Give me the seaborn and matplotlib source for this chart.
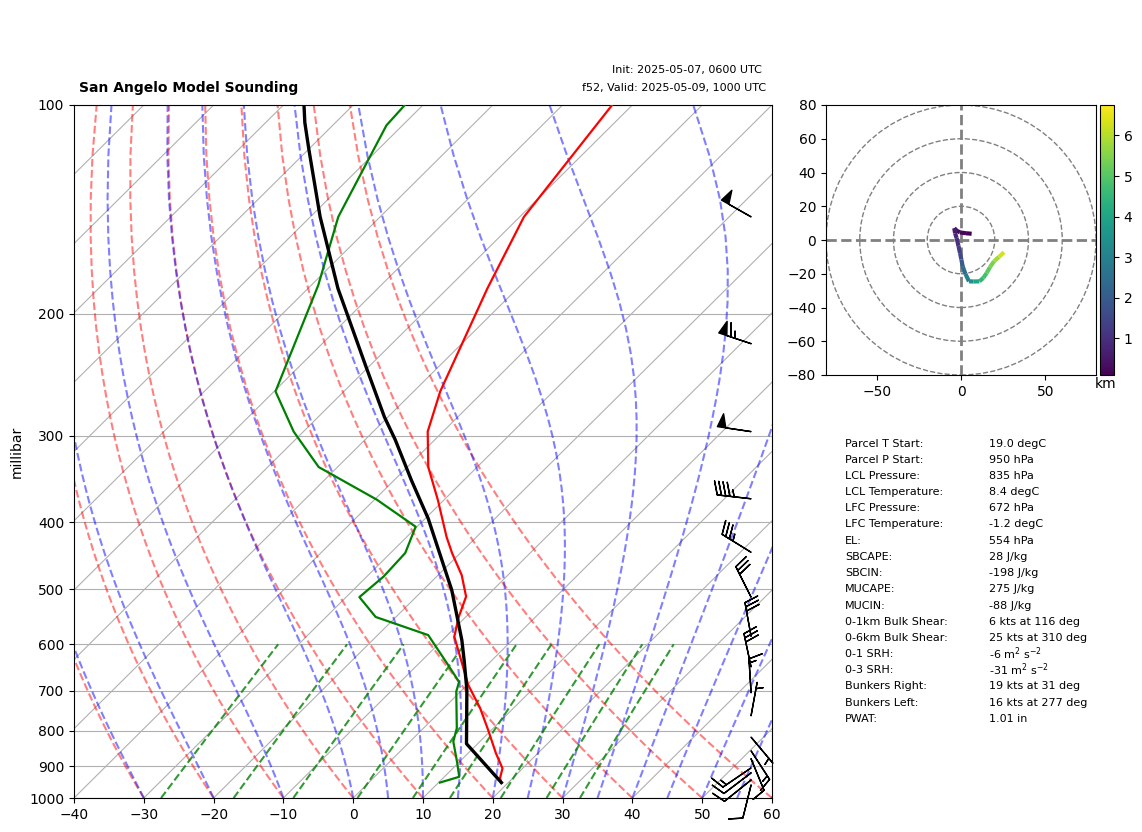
# plot.py
# Model sounding on a skew-T with hodograph and parameter table

import numpy as np
import pandas as pd
import matplotlib
matplotlib.use("Agg")
import matplotlib.pyplot as plt
from matplotlib.collections import LineCollection
from matplotlib.patches import Circle
import seaborn as sns

# Sounding values
temp_p = [950, 937, 906, 862, 798, 742, 687, 585, 548, 512, 477, 443, 420, 372, 333, 296, 259, 184, 145, 100]
temp_c = [19.0, 18.2, 17.1, 14.0, 9.54, 5.23, 0.18, -8.8, -11.0, -12.9, -16.6, -21.2, -24.3, -30.8, -37.0,
          -42.2, -46.2, -54.3, -59.4, -62.9]
dewp_p = [950, 932, 891, 829, 793, 702, 680, 643, 582, 548, 513, 479, 443, 406, 371, 333, 296, 259, 182, 145, 107, 100]
dewp_c = [10.2, 12.13, 9.9, 6.2, 4.77, -0.6, -1.58, -5.57, -12.76, -22.9, -28.1, -27.6, -27.9, -30.2, -39.7,
          -52.7, -61.4, -69.8, -79.0, -86.0, -92.3, -92.6]
parcel_p = [950, 835, 698, 632, 592, 501, 395, 348, 304, 282, 239, 202, 184, 145, 116, 106, 100]
parcel_c = [19.0, 8.4, 0.67, -4.04, -7.2, -15.9, -29.6, -37.5, -45.7, -50.5, -60.3, -70.2, -75.7, -88.6, -99.9,
            -104.4, -107.05]

# Wind barbs
wind_p = [145, 221, 296, 370, 442, 513, 584, 647, 705, 761, 817, 855, 878, 905, 920, 942, 958]
wind_kts = [50, 65, 50, 45, 35, 30, 30, 30, 15, 5, 5, 15, 10, 15, 10, 10, 10]
wind_dir = [299.5, 288.4, 278.4, 276.5, 301.8, 333.4, 349.7, 348, 356.5, 10.3, 140, 147, 157.5, 235.8, 232.8,
            231.3, 194]

# Hodograph
hodo_u = [6.3, 3.0, -0.6, -2.5, -4.0, -3.5, -2.6, -1.5, -0.6, 0.2, 1.0, 2.6, 4.7, 7.5, 10.9, 13.2, 15.2, 17.2,
          19.6, 22.5, 25.5]
hodo_v = [3.7, 4.0, 4.5, 5.5, 7.0, 4.0, 1.2, -3.5, -7.7, -11.5, -15.6, -20.0, -24.5, -24.6, -24.5, -22.5, -19.6,
          -16.0, -12.6, -10.0, -7.3]
hodo_km = [0.1, 0.2, 0.3, 0.4, 0.55, 0.8, 1.0, 1.3, 1.6, 2.0, 2.4, 2.9, 3.4, 4.0, 4.5, 4.8, 5.1, 5.4, 5.8, 6.3, 6.75]

# Parameter table
param_names = ["Parcel T Start:", "Parcel P Start:", "LCL Pressure:", "LCL Temperature:", "LFC Pressure:",
               "LFC Temperature:", "EL:", "SBCAPE:", "SBCIN:", "MUCAPE:", "MUCIN:", "0-1km Bulk Shear:",
               "0-6km Bulk Shear:", "0-1 SRH:", "0-3 SRH:", "Bunkers Right:", "Bunkers Left:", "PWAT:"]
param_vals = ["19.0 degC", "950 hPa", "835 hPa", "8.4 degC", "672 hPa", "-1.2 degC", "554 hPa", "28 J/kg",
              "-198 J/kg", "275 J/kg", "-88 J/kg", "6 kts at 116 deg", "25 kts at 310 deg",
              r"-6 m$^2$ s$^{-2}$", r"-31 m$^2$ s$^{-2}$", "19 kts at 31 deg", "16 kts at 277 deg", "1.01 in"]
param_rows = [444, 460, 476, 492, 508, 524, 541, 557, 573, 589, 606, 622, 638, 654, 670, 686, 703, 719]

pressure_ticks = [100, 200, 300, 400, 500, 600, 700, 800, 900, 1000]

W, H = 1142, 832
SKEW = 100.0  # degC of x shift per decade of pressure


def skew(t, p):
    return np.asarray(t, dtype=float) + SKEW * np.log10(1000.0 / np.asarray(p, dtype=float))


def make_axes(fig, left, top, right, bottom):
    return fig.add_axes([left / W, 1 - bottom / H, (right - left) / W, (bottom - top) / H])


def moist_line(t0, pres):
    # integrate the saturated lapse rate upward from 1000 hPa
    out = [t0 + 273.15]
    for p1, p2 in zip(pres[:-1], pres[1:]):
        t = out[-1]
        for _ in range(4):
            pm = 0.5 * (p1 + p2)
            es = 6.112 * np.exp(17.67 * (t - 273.15) / (t - 29.65))
            rs = 0.622 * es / (pm - es)
            lv = 2.501e6
            dt = (287.05 * t + lv * rs) / (1005.0 + lv ** 2 * rs * 0.622 / (287.05 * t ** 2))
            t = t + dt * np.log(p2 / p1) / 4
        out.append(t)
    return np.array(out) - 273.15


def add_lines(ax, curves, **kw):
    segs = [np.column_stack([skew(t, p), p]) for t, p in curves]
    ax.add_collection(LineCollection(segs, linestyles="dashed", **kw), autolim=False)


fig = plt.figure(figsize=(W / 100, H / 100), dpi=100)
ax = make_axes(fig, 74, 105, 772, 798)
ax.set_yscale("log")
ax.set_xlim(-40, 60)
ax.set_ylim(1000, 100)
ax.yaxis.set_major_locator(plt.FixedLocator(pressure_ticks))
ax.yaxis.set_major_formatter(plt.FixedFormatter([str(v) for v in pressure_ticks]))
ax.yaxis.set_minor_locator(plt.NullLocator())
ax.set_xticks(np.arange(-40, 61, 10))
ax.grid(axis="y", color="#b0b0b0", lw=0.8)
ax.set_axisbelow(True)
ax.set_ylabel("millibar")

# Isotherms
for t in np.arange(-150, 61, 10):
    ax.plot(skew([t, t], [1000, 100]), [1000, 100], color="#b0b0b0", lw=0.8, zorder=1)

# Background adiabats and mixing ratio lines
pres = np.linspace(1000, 100, 50)
dry_t0 = np.arange(-40, 61, 10)
dry = [((t0 + 273.15) * (pres / 1000.0) ** 0.2854 - 273.15, pres) for t0 in dry_t0]
add_lines(ax, dry, colors="r", alpha=0.5, linewidths=1.5, zorder=1.5)

moist_t0 = np.concatenate((np.arange(-40, 0, 10), np.arange(0, 61, 5)))
moist = [(moist_line(t0, pres), pres) for t0 in moist_t0]
add_lines(ax, moist, colors="b", alpha=0.5, linewidths=1.5, zorder=1.5)

mix_p = np.linspace(1000, 600, 20)
mixing = []
for w in [0.0004, 0.001, 0.002, 0.004, 0.007, 0.01, 0.016, 0.024, 0.032]:
    ln_e = np.log(mix_p * w / (0.622 + w) / 6.112)
    mixing.append((243.5 * ln_e / (17.67 - ln_e), mix_p))
add_lines(ax, mixing, colors="g", alpha=0.8, linewidths=1.5, zorder=1.5)

# Profiles
temp_df = pd.DataFrame({"x": skew(temp_c, temp_p), "p": temp_p})
dewp_df = pd.DataFrame({"x": skew(dewp_c, dewp_p), "p": dewp_p})
parcel_df = pd.DataFrame({"x": skew(parcel_c, parcel_p), "p": parcel_p})
sns.lineplot(data=temp_df, x="x", y="p", color="r", lw=1.6, sort=False, estimator=None, ax=ax, zorder=3)
sns.lineplot(data=dewp_df, x="x", y="p", color="g", lw=1.6, sort=False, estimator=None, ax=ax, zorder=3)
sns.lineplot(data=parcel_df, x="x", y="p", color="k", lw=2.4, sort=False, estimator=None, ax=ax, zorder=3)
ax.set_xlabel("")
ax.set_ylabel("millibar")

# Barbs
rad = np.deg2rad(wind_dir)
wind_u = -np.array(wind_kts) * np.sin(rad)
wind_v = -np.array(wind_kts) * np.cos(rad)
ax.barbs(np.full(len(wind_p), 0.97), wind_p, wind_u, wind_v, transform=ax.get_yaxis_transform(),
         clip_on=False, zorder=4)

# Titles
fig.text(79 / W, 1 - 88 / H, "San Angelo Model Sounding", fontsize=10, fontweight="bold", va="center")
fig.text(762 / W, 1 - 70 / H, "Init: 2025-05-07, 0600 UTC", fontsize=8, ha="right", va="center")
fig.text(766 / W, 1 - 88 / H, "f52, Valid: 2025-05-09, 1000 UTC", fontsize=8, ha="right", va="center")

# Hodograph
hax = make_axes(fig, 826, 105, 1096, 375)
hax.set_xlim(-80, 80)
hax.set_ylim(-80, 80)
hax.set_xticks([-50, 0, 50])
hax.set_yticks(np.arange(-80, 81, 20))
for r in [20, 40, 60, 80]:
    hax.add_patch(Circle((0, 0), r, fill=False, edgecolor="grey", linestyle="--", lw=1))
hax.axhline(0, color="grey", ls="--", lw=2)
hax.axvline(0, color="grey", ls="--", lw=2)
pts = np.column_stack([hodo_u, hodo_v])
lc = LineCollection(np.stack([pts[:-1], pts[1:]], axis=1), cmap="viridis", lw=3, zorder=3)
lc.set_array(np.array(hodo_km[:-1]))
lc.set_clim(min(hodo_km), max(hodo_km))
hax.add_collection(lc, autolim=False)

cax = make_axes(fig, 1100, 105, 1114, 375)
cbar = fig.colorbar(lc, cax=cax)
cbar.set_ticks([1, 2, 3, 4, 5, 6])
fig.text(1106 / W, 1 - 384 / H, "km", fontsize=10, ha="center", va="center")

# Table
for name, val, row in zip(param_names, param_vals, param_rows):
    fig.text(845 / W, 1 - row / H, name, fontsize=8, va="center")
    fig.text(989 / W, 1 - row / H, val, fontsize=8, va="center")

fig.savefig("out.png", dpi=100)
